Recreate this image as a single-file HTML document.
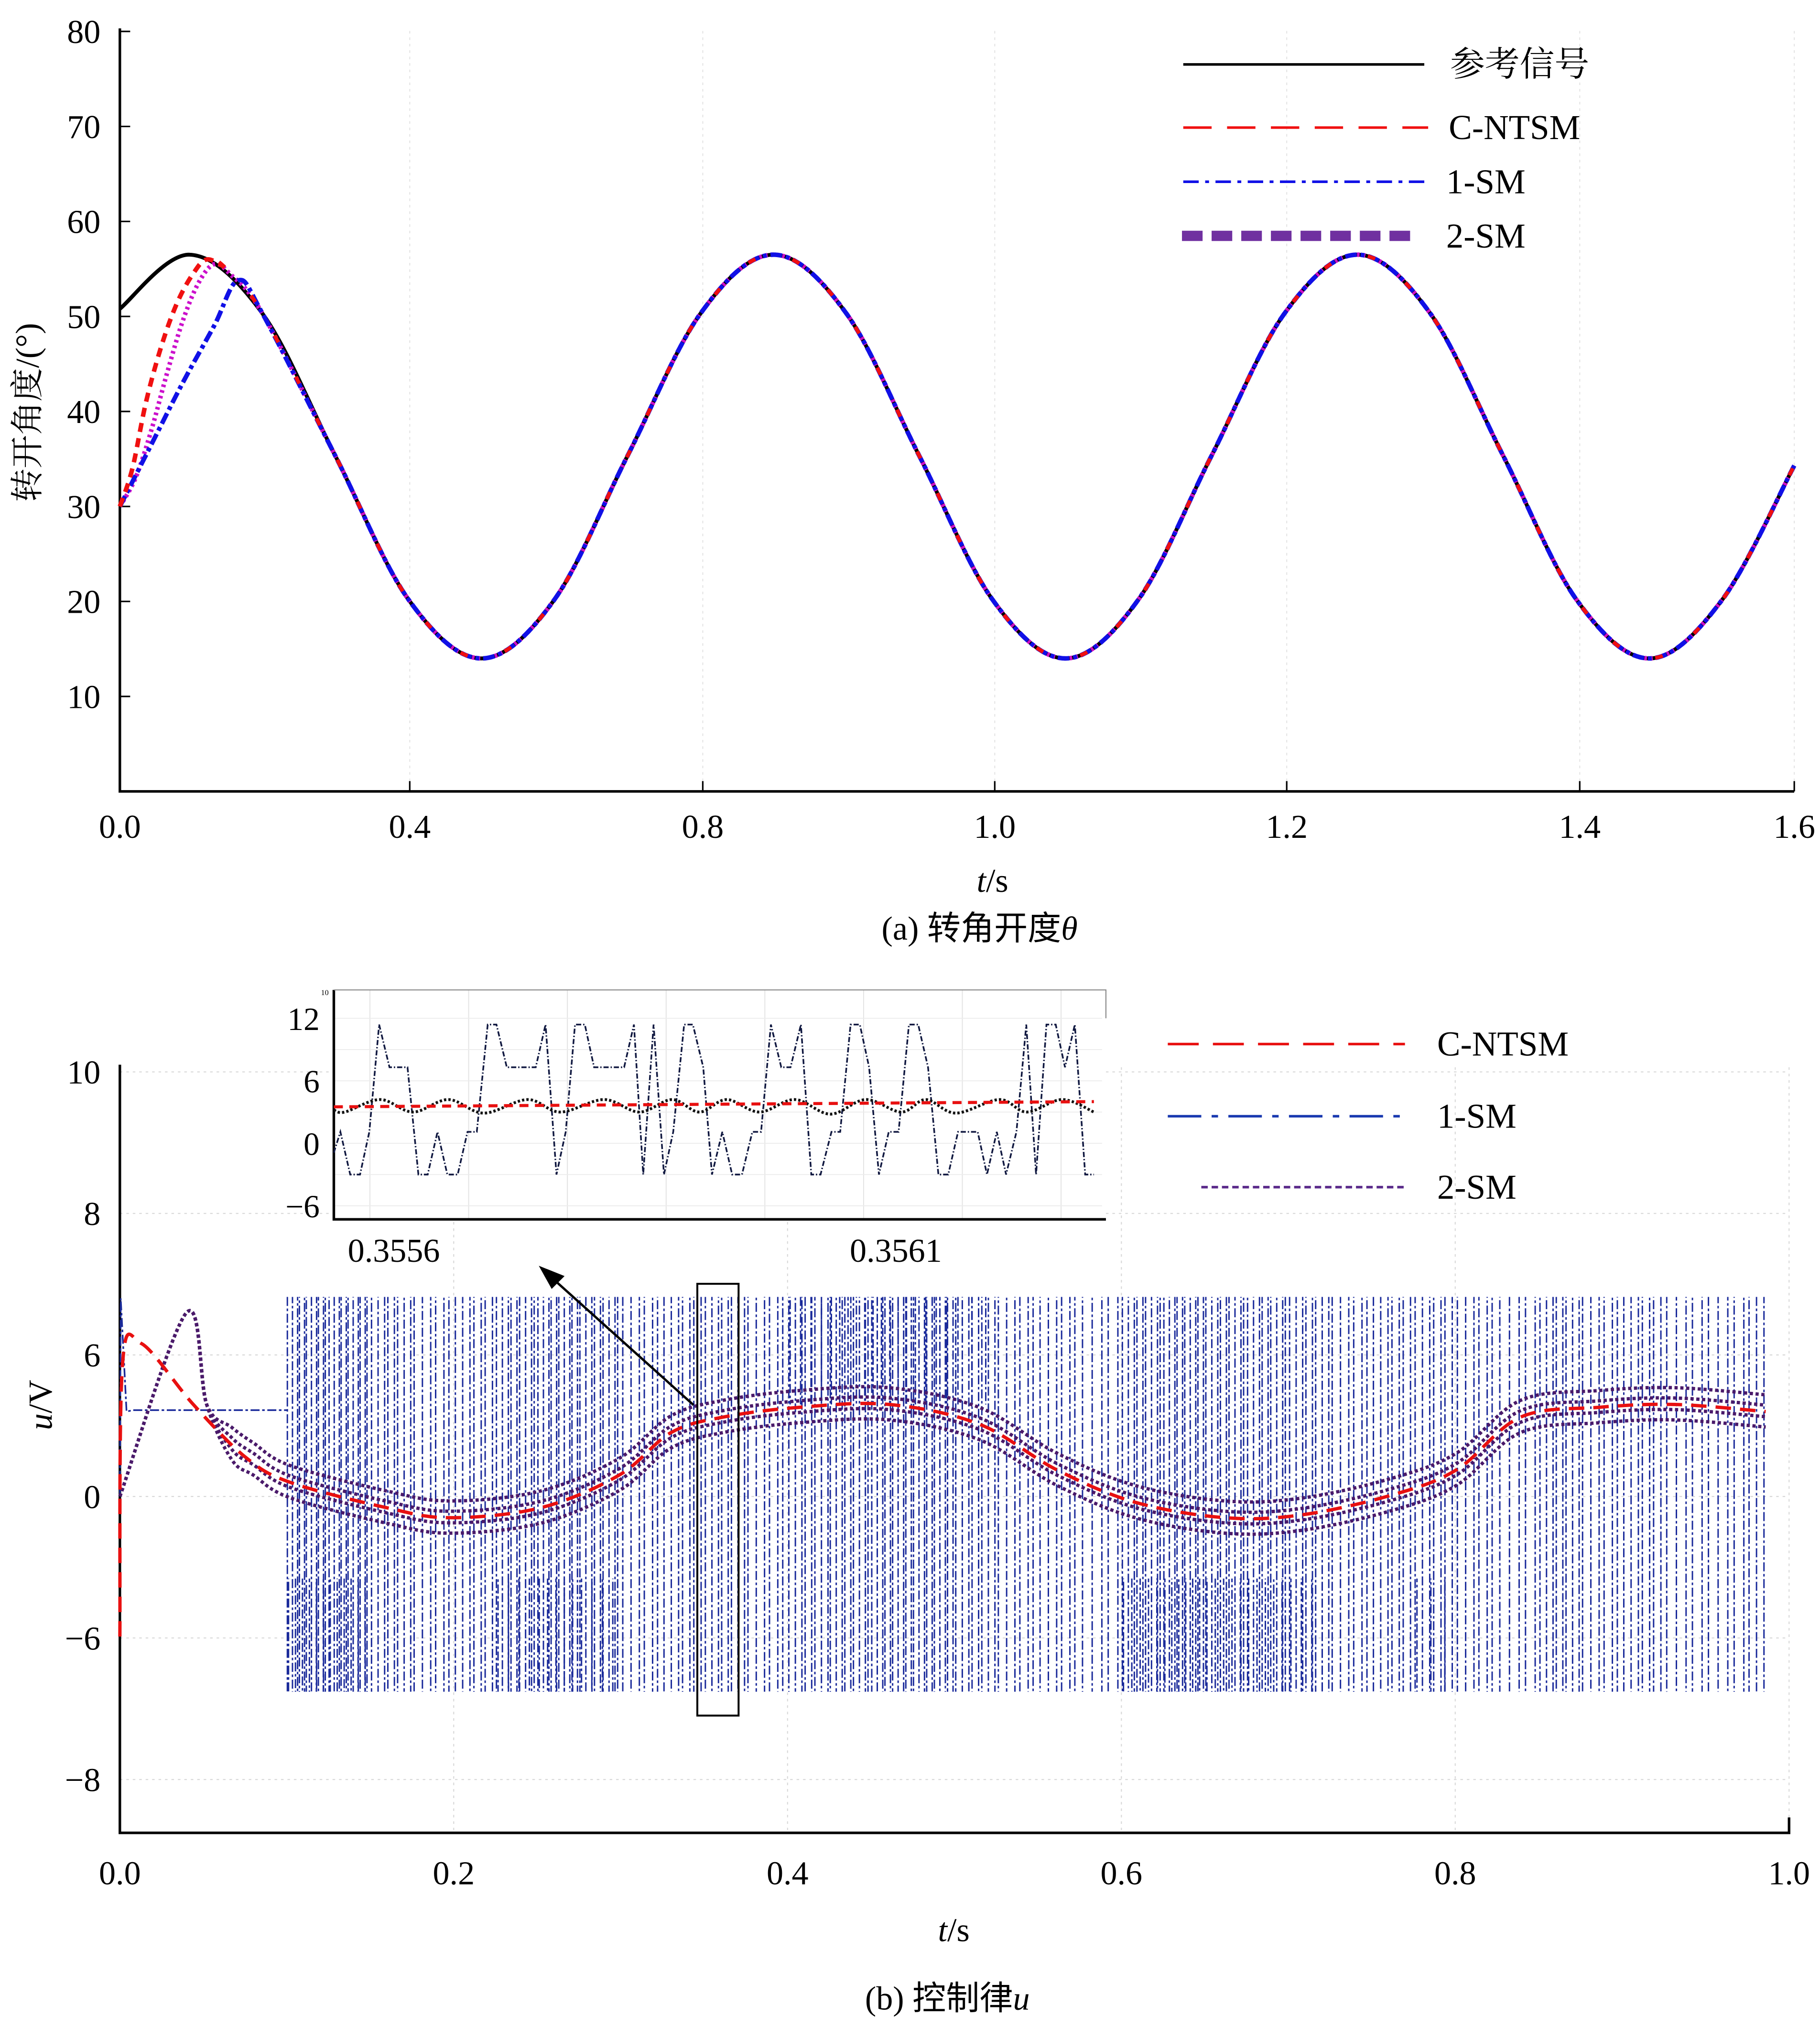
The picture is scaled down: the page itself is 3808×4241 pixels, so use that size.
<!DOCTYPE html>
<html><head><meta charset="utf-8">
<style>
html,body{margin:0;padding:0;background:#fff;}
svg{display:block;}
text{font-family:"Liberation Serif","Noto Serif CJK SC","Noto Sans CJK SC",serif;fill:#000;}
</style></head>
<body>
<svg id="fig" xmlns="http://www.w3.org/2000/svg" width="3808" height="4241" viewBox="0 0 1412 1572.6" preserveAspectRatio="none">
<rect x="0" y="0" width="1412" height="1572.6" fill="#fff"/>
<g id="chartA"></g>
<g id="chartB"></g>
<g id="inset"></g>
</svg>
<script>
// ---------- Chart (a) data ----------
const aTickVals = [0,0.277,0.557,0.836,1.115,1.395,1.6];
const aTickLabels = ["0.0","0.4","0.8","1.0","1.2","1.4","1.6"];
const aYTicks = [10,20,30,40,50,60,70,80];
const refT = [0,0.0665,0.1363,0.2060,0.2758,0.3455,0.4153,0.4850,0.5548,0.6245,0.6943,0.7640,0.8338,0.9035,0.9733,1.0430,1.1128,1.1825,1.2523,1.3220,1.3918,1.4615,1.5313,1.6];
const refV = [50.8,56.5,50.3,35.3,20.2,14,20.2,35.3,50.3,56.5,50.3,35.3,20.2,14,20.2,35.3,50.3,56.5,50.3,35.3,20.2,14,20.2,34.3];
const cntsmT0 = [0,0.012,0.025,0.04,0.055,0.07,0.083,0.1];
const cntsmV0 = [30,34,41,47,51.5,54.5,56,55.2];
const sm2T0 = [0,0.015,0.03,0.045,0.06,0.075,0.09,0.105];
const sm2V0 = [30,33,38,44,49.5,53.5,55.5,54.5];
const sm1T0 = [0,0.03,0.06,0.09,0.113];
const sm1V0 = [30,36.5,43,49,53.8];

// ---------- Chart (b) data ----------
const bTickVals = [0,0.2,0.4,0.6,0.8,1.0];
const bTickLabels = ["0.0","0.2","0.4","0.6","0.8","1.0"];
const bYLevels = [-2,-1,0,1,2,3];
const bYLabels = ["\u22128","\u22126","0","6","8","10"];
const redT = [0,0.0015,0.013,0.044,0.075,0.102,0.16,0.198,0.252,0.299,0.33,0.361,0.407,0.461,0.515,0.561,0.608,0.662,0.708,0.762,0.801,0.839,0.886,0.932,0.986];
const redL = [-0.99,0.92,1.08,0.65,0.28,0.10,-0.08,-0.15,-0.08,0.15,0.45,0.56,0.63,0.65,0.51,0.19,-0.04,-0.15,-0.13,0.01,0.19,0.56,0.63,0.65,0.60];
const purT = [0,0.04,0.052,0.067,0.08,0.102,0.16,0.198,0.252,0.299,0.33,0.361,0.407,0.461,0.515,0.561,0.608,0.662,0.708,0.762,0.801,0.839,0.886,0.932,0.986];
const purL = [0,1.30,0.65,0.37,0.26,0.10,-0.08,-0.15,-0.08,0.15,0.45,0.56,0.63,0.65,0.51,0.19,-0.04,-0.15,-0.13,0.01,0.19,0.56,0.63,0.65,0.60];
const blueEarlyT = [0,0.0005,0.004,0.008,0.1];
const blueEarlyL = [0,1.4,0.6,0.61,0.61];
const chatterStart = 0.1;
const chatterBin = 0.025;
const chatterHigh = 1.41;
const chatterLow = -1.38;
const chatterDensity = [11,11,8,6,7,9,10,9,6,7,8,6,8,9,10,10,8,6,6,5,9,10,9,9,8,6,7,7,6,5,8,6,7,5,5,3];
const lowExtra =  [6,6,0,0,0,4,5,4,0,0,0,0,0,0,0,0,0,0,0,0,5,6,5,5,4,0,0,3,0,0,0,0,0,0,0,0];
const highExtra = [0,0,0,0,0,0,0,0,0,0,0,0,4,5,5,4,3,0,0,0,0,0,0,0,0,0,0,0,0,0,0,0,0,0,0,0];

// ---------- Inset data ----------
const inYTicks = [12,6,0,-6];
const inXLabels = ["0.3556","0.3561"];
const inXLabelPos = [0.11,1.03];
const inBlueT = [0,0.012,0.030,0.048,0.065,0.083,0.102,0.135,0.155,0.172,0.190,0.208,0.227,0.245,0.262,0.282,0.298,0.317,0.370,0.388,0.408,0.425,0.442,0.460,0.477,0.532,0.550,0.567,0.586,0.605,0.622,0.642,0.658,0.677,0.693,0.712,0.730,0.748,0.767,0.783,0.801,0.820,0.837,0.856,0.875,0.892,0.912,0.928,0.947,0.964,0.981,0.999,1.017,1.035,1.054,1.071,1.089,1.108,1.126,1.144,1.180,1.197,1.215,1.232,1.251,1.269,1.287,1.306,1.323,1.340,1.358,1.377,1.393];
const inBlueV = [-0.9,1.1,-3,-3,1.1,11.4,7.3,7.3,-3,-3,1.1,-3,-3,1.1,1.1,11.4,11.4,7.3,7.3,11.4,-3,1.1,11.4,11.4,7.3,7.3,11.4,-3,11.4,-3,1.1,11.4,11.4,7.3,-3,1.1,-3,-3,1.1,1.1,11.4,7.3,7.3,11.4,-3,-3,1.1,1.1,11.4,11.4,7.3,-3,1.1,1.1,11.4,11.4,7.3,-3,-3,1.1,1.1,-3,1.1,-3,1.1,11.4,-3,11.4,11.4,7.3,11.4,-3,-3];
const inBlackT = [0,0.020,0.085,0.145,0.210,0.275,0.355,0.415,0.495,0.560,0.620,0.670,0.720,0.780,0.845,0.910,0.975,1.040,1.085,1.140,1.220,1.270,1.335,1.393];
const inBlackV = [3.2,3.0,4.2,3.0,4.2,2.9,4.2,3.0,4.2,3.0,4.2,3.0,4.2,3.0,4.2,2.8,4.2,3.0,4.2,2.9,4.2,3.0,4.2,3.0];
const inRedT = [0,1.393];
const inRedV = [3.5,4.0];

const NS = "http://www.w3.org/2000/svg";
function el(parent, tag, attrs){
  const e = document.createElementNS(NS, tag);
  for (const k in attrs) e.setAttribute(k, attrs[k]);
  parent.appendChild(e);
  return e;
}
function txt(parent, x, y, s, size, anchor, extra){
  const t = el(parent, "text", {x:x, y:y, "font-size":size, "text-anchor":anchor||"middle"});
  if (extra) for (const k in extra) t.setAttribute(k, extra[k]);
  t.textContent = s;
  return t;
}
function crPath(pts){
  let d = "M"+pts[0][0].toFixed(2)+","+pts[0][1].toFixed(2);
  for (let i=0;i<pts.length-1;i++){
    const p0=pts[Math.max(0,i-1)], p1=pts[i], p2=pts[i+1], p3=pts[Math.min(pts.length-1,i+2)];
    const c1x=p1[0]+(p2[0]-p0[0])/6, c1y=p1[1]+(p2[1]-p0[1])/6;
    const c2x=p2[0]-(p3[0]-p1[0])/6, c2y=p2[1]-(p3[1]-p1[1])/6;
    d+=" C"+c1x.toFixed(2)+","+c1y.toFixed(2)+" "+c2x.toFixed(2)+","+c2y.toFixed(2)+" "+p2[0].toFixed(2)+","+p2[1].toFixed(2);
  }
  return d;
}
function linPath(pts){
  return "M"+pts.map(p=>p[0].toFixed(2)+","+p[1].toFixed(2)).join(" L");
}

// ================= Chart A =================
const A = document.getElementById("chartA");
const xa = t => 93 + t*811.9;
const ya = v => 614 - v*7.37;
aTickVals.forEach((v,i)=>{
  const g = el(A,"line",{x1:xa(v),y1:24,x2:xa(v),y2:614,stroke:"#e4e4e4","stroke-width":0.8,"stroke-dasharray":"2,3"});
  
  
  const tk = el(A,"line",{x1:xa(v),y1:614,x2:xa(v),y2:606,stroke:"#000","stroke-width":1.2});
  
  
  const l = txt(A, xa(v), 650, aTickLabels[i], 26);
  
  
});
aYTicks.forEach(v=>{
  const tk = el(A,"line",{x1:93,y1:ya(v),x2:101,y2:ya(v),stroke:"#000","stroke-width":1.2});
  
  
  const l = txt(A, 78, ya(v)+9, String(v), 26, "end");
  
  
});
const axA = el(A,"path",{d:"M93,22 L93,614 L1392,614",fill:"none",stroke:"#000","stroke-width":2});



function seriesPts(t0,v0){
  const pts = t0.map((t,i)=>[xa(t),ya(v0[i])]);
  const last = t0[t0.length-1];
  refT.forEach((t,i)=>{ if (t>last+0.01) pts.push([xa(t),ya(refV[i])]); });
  return pts;
}
const refPath = el(A,"path",{d:crPath(refT.map((t,i)=>[xa(t),ya(refV[i])])),fill:"none",stroke:"#000","stroke-width":3});


const magPath = el(A,"path",{d:crPath(seriesPts(sm2T0,sm2V0)),fill:"none",stroke:"#cc10cc","stroke-width":3.5,"stroke-dasharray":"2,2.5"});


const bluePath = el(A,"path",{d:crPath(seriesPts(sm1T0,sm1V0)),fill:"none",stroke:"#1010e6","stroke-width":3.5,"stroke-dasharray":"9,3,3,3"});


const redPath = el(A,"path",{d:crPath(seriesPts(cntsmT0,cntsmV0)),fill:"none",stroke:"#f01010","stroke-width":3,"stroke-dasharray":"6,30"});


const redStart = el(A,"path",{d:crPath(cntsmT0.map((t,i)=>[xa(t),ya(cntsmV0[i])])),fill:"none",stroke:"#f01010","stroke-width":3.5,"stroke-dasharray":"7,5"});



// legend a
const legA = el(A,"g",{});


const la1 = el(legA,"line",{x1:918,y1:50,x2:1105,y2:50,stroke:"#000","stroke-width":2});


const lt1 = txt(legA,1125,59,"参考信号",27,"start",{"font-family":"\"Noto Sans CJK SC\",sans-serif"});


const la2 = el(legA,"line",{x1:918,y1:99,x2:1108,y2:99,stroke:"#f01010","stroke-width":2,"stroke-dasharray":"22,12"});


const lt2 = txt(legA,1124,108,"C-NTSM",27,"start");


const la3 = el(legA,"line",{x1:918,y1:141,x2:1105,y2:141,stroke:"#1010e6","stroke-width":2,"stroke-dasharray":"12,5,3,5"});


const lt3 = txt(legA,1122,150,"1-SM",27,"start");


const la4 = el(legA,"line",{x1:917,y1:183,x2:1097,y2:183,stroke:"#7030a0","stroke-width":8,"stroke-dasharray":"16,7"});


const lt4 = txt(legA,1122,192,"2-SM",27,"start");



const yTitleA = txt(A,0,0,"转开角度/(°)",26,"middle",{transform:"translate(30,320) rotate(-90)","font-family":"\"Noto Sans CJK SC\",sans-serif"});


const xTitleA = el(A,"text",{x:770,y:692,"font-size":26,"text-anchor":"middle"});
xTitleA.innerHTML = '<tspan font-style="italic">t</tspan>/s';


const capA = el(A,"text",{x:760,y:729,"font-size":26,"text-anchor":"middle"});
capA.innerHTML = '(a) <tspan font-family="Noto Sans CJK SC, sans-serif">转角开度</tspan><tspan font-style="italic">θ</tspan>';



// ================= Chart B =================
const B = document.getElementById("chartB");
const xb = t => 93 + t*1295;
const yb = l => 1161 - l*109.8;
bTickVals.forEach((v,i)=>{
  const g = el(B,"line",{x1:xb(v),y1:828,x2:xb(v),y2:1422,stroke:"#d8d8d8","stroke-width":0.8,"stroke-dasharray":"2,3"});
  
  
  const l = txt(B, xb(v), 1462, bTickLabels[i], 26);
  
  
});
bYLevels.forEach((lv,i)=>{
  const g = el(B,"line",{x1:93,y1:yb(lv),x2:1388,y2:yb(lv),stroke:"#d8d8d8","stroke-width":0.8,"stroke-dasharray":"2,3"});
  
  
  const l = txt(B, 78, yb(lv)+9, bYLabels[i], 26, "end");
  
  
});
const axB = el(B,"path",{d:"M93,826 L93,1422 L1388,1422 L1388,1410",fill:"none",stroke:"#000","stroke-width":2});



// chattering 1-SM
const chat = el(B,"g",{stroke:"#1a2a9a","stroke-width":1.1,fill:"none"});


const groups = ["","","","","",""];
let cnt = 0;
function addLine(t, a, b){
  groups[cnt % 6] += "M"+xb(t).toFixed(2)+","+yb(a).toFixed(1)+"V"+yb(b).toFixed(1);
  cnt++;
}
chatterDensity.forEach((n,b)=>{
  const t0 = chatterStart + b*chatterBin;
  const w = (b===chatterDensity.length-1) ? 0.011 : chatterBin;
  for (let j=0;j<n;j++){
    const t = t0 + w*(j+0.5)/n + ((j*7)%5-2)*0.0004;
    addLine(t, chatterHigh, chatterLow);
  }
  for (let j=0;j<lowExtra[b];j++){
    addLine(t0 + w*(j+0.25)/lowExtra[b], -0.58, chatterLow);
  }
  for (let j=0;j<highExtra[b];j++){
    addLine(t0 + w*(j+0.25)/highExtra[b], chatterHigh, 0.65);
  }
});
groups.forEach((d,k)=>{
  const p = el(chat,"path",{d:d,"stroke-dasharray":"7,2,2,2","stroke-dashoffset":k*2.1});
  
  
});
const blueEarly = el(B,"path",{d:linPath(blueEarlyT.map((t,i)=>[xb(t),yb(blueEarlyL[i])])),fill:"none",stroke:"#1a2a9a","stroke-width":1.3,"stroke-dasharray":"7,2,2,2"});



// 2-SM band
[-13,-5,4,12].forEach(off=>{
  const p = el(B,"path",{d:crPath(purT.map((t,i)=>[xb(t),yb(purL[i])+(t>0.06?off:0)])),fill:"none",stroke:"#4a1a6a","stroke-width":2.6,"stroke-dasharray":"2.5,2"});
  
  
});
const redB = el(B,"path",{d:crPath(redT.map((t,i)=>[xb(t),yb(redL[i])])),fill:"none",stroke:"#e81010","stroke-width":2.6,"stroke-dasharray":"12,7"});



// zoom box & arrow
const zb = el(B,"rect",{x:541,y:996,width:32,height:335,fill:"none",stroke:"#000","stroke-width":1.5});


const ar = el(B,"line",{x1:538,y1:1090,x2:430,y2:993,stroke:"#000","stroke-width":1.8});


const ah = el(B,"polygon",{points:"418,982 438,990 428,1000",fill:"#000"});



// legend b
const legB = el(B,"g",{});


const lb1 = el(legB,"line",{x1:906,y1:810,x2:1090,y2:810,stroke:"#e81010","stroke-width":2,"stroke-dasharray":"24,11"});


const lbt1 = txt(legB,1115,819,"C-NTSM",27,"start");


const lb2 = el(legB,"line",{x1:906,y1:866,x2:1092,y2:866,stroke:"#1a3ab0","stroke-width":2,"stroke-dasharray":"26,8,5,8"});


const lbt2 = txt(legB,1115,875,"1-SM",27,"start");


const lb3 = el(legB,"line",{x1:932,y1:921,x2:1090,y2:921,stroke:"#5a2a8a","stroke-width":2,"stroke-dasharray":"5,3"});


const lbt3 = txt(legB,1115,930,"2-SM",27,"start");



const yTitleB = el(B,"text",{x:0,y:0,"font-size":26,"text-anchor":"middle",transform:"translate(40,1090) rotate(-90)"});
yTitleB.innerHTML = '<tspan font-style="italic">u</tspan>/V';


const xTitleB = el(B,"text",{x:740,y:1506,"font-size":26,"text-anchor":"middle"});
xTitleB.innerHTML = '<tspan font-style="italic">t</tspan>/s';


const capB = el(B,"text",{x:735,y:1559,"font-size":26,"text-anchor":"middle"});
capB.innerHTML = '(b) <tspan font-family="Noto Sans CJK SC, sans-serif">控制律</tspan><tspan font-style="italic">u</tspan>';



// ================= Inset =================
const I = document.getElementById("inset");
const xi = t => 259 + t*(599/1.415);
const yi = v => 887 - v*8.08;
const ibg = el(I,"rect",{x:259,y:768,width:599,height:178,fill:"#fff"});


for (let k=0;k<8;k++){
  const gx = 287 + k*76.6;
  const g = el(I,"line",{x1:gx,y1:768,x2:gx,y2:946,stroke:"#e2e2e2","stroke-width":0.7});
  
  
}
for (let v=-6; v<=13; v+=3){
  const g = el(I,"line",{x1:259,y1:yi(v),x2:855,y2:yi(v),stroke:"#ececec","stroke-width":0.7});
  
  
}
inYTicks.forEach(v=>{
  const l = txt(I, 248, yi(v)+9, v<0?"\u2212"+Math.abs(v):String(v), 25, "end");
  
  
});
inXLabels.forEach((s,i)=>{
  const l = txt(I, xi(inXLabelPos[i]), 979, s, 26);
  
  
});
const tiny = txt(I,252,772,"10",6,"middle");


const iax = el(I,"path",{d:"M259,768 L259,946 L858,946",fill:"none",stroke:"#000","stroke-width":2});


const itop = el(I,"path",{d:"M259,768 L858,768 L858,790",fill:"none",stroke:"#888","stroke-width":0.8});


const ib = el(I,"path",{d:linPath(inBlueT.map((t,i)=>[xi(t),yi(inBlueV[i])])),fill:"none",stroke:"#101840","stroke-width":1.3,"stroke-dasharray":"4,1.5,1,1.5"});


const ik = el(I,"path",{d:crPath(inBlackT.map((t,i)=>[xi(t),yi(inBlackV[i])])),fill:"none",stroke:"#111","stroke-width":2.2,"stroke-dasharray":"1.8,1.6"});


const ir = el(I,"path",{d:linPath(inRedT.map((t,i)=>[xi(t),yi(inRedV[i])])),fill:"none",stroke:"#e81010","stroke-width":2.4,"stroke-dasharray":"7,5"});


</script>
</body></html>
